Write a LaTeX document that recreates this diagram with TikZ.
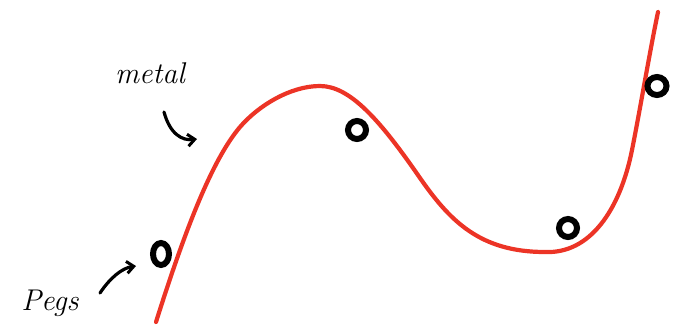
\documentclass[tikz,border=0pt]{standalone}
\usetikzlibrary{arrows.meta}
\begin{document}
\begin{tikzpicture}[x=1pt,y=-1pt,
  wire/.style={draw={rgb,255:red,236;green,52;blue,38},line width=4.2pt,line cap=round,line join=round},
  peg/.style={draw=black,line width=6pt},
  pointer/.style={draw=black,line width=3.2pt,line cap=round,-{Straight Barb[length=7pt,width=12pt,line width=3pt]}},
  lbl/.style={font=\itshape\fontsize{30}{30}\selectfont,inner sep=0pt}]
\useasboundingbox (0,0) rectangle (674,333);
% red wire
\draw[wire] (156,322) .. controls (185,230) and (212,160) .. (240,127)
  .. controls (258,106) and (290,86) .. (320,86)
  .. controls (350,86) and (380,120) .. (420,178)
  .. controls (450,221) and (480,252) .. (545,252)
  .. controls (590,254) and (620,210) .. (632,150)
  .. controls (640,110) and (650,50) .. (658,12);
% pegs
\draw[peg] (161,254) ellipse (8pt and 11pt);
\draw[peg] (357,130) ellipse (9pt and 9pt);
\draw[peg] (568,228) ellipse (9pt and 9pt);
\draw[peg] (657,86) ellipse (9.5pt and 9pt);
% labels
\node[lbl] (metal) at (150,73) {metal};
\node[lbl] (pegs) at (50,303) {Pegs};
\coordinate (m1) at (164,112);
\coordinate (m2) at (197,139);
\coordinate (p1) at (100,293);
\coordinate (p2) at (136,266);
\draw[pointer] (m1) .. controls (170,134) and (182,141) .. (m2);
\draw[pointer] (p1) .. controls (110,278) and (122,268) .. (p2);
\end{tikzpicture}
\end{document}
